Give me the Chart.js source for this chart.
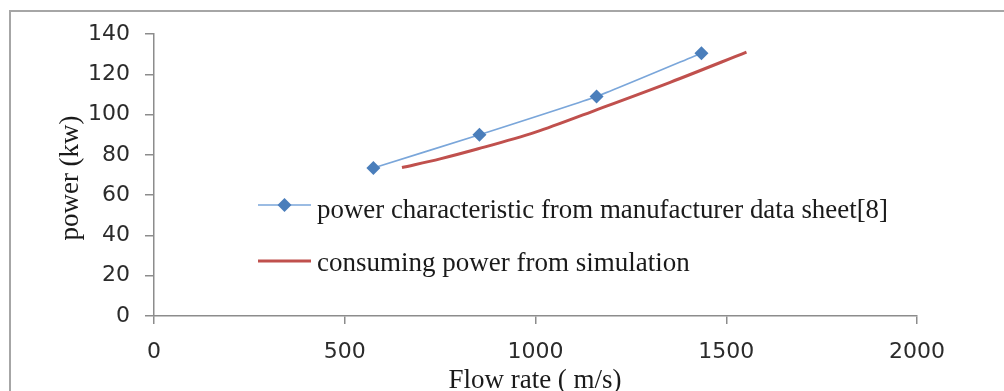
<!DOCTYPE html>
<html>
<head>
<meta charset="utf-8">
<script src="https://cdn.jsdelivr.net/npm/chart.js@4/dist/chart.umd.min.js"></script>
<style>
html,body{margin:0;padding:0;background:#fff;overflow:hidden;}
#wrap{position:relative;width:1004px;height:391px;}
</style>
</head>
<body>
<div id="wrap"><canvas id="c"></canvas></div>
<script>
// ---- data ----
const manufacturerFlow  = [575, 853, 1160, 1435];
const manufacturerPower = [73.5, 90, 109, 130.5];
const simFlow  = [650, 750, 850, 1000, 1155, 1353, 1553];
const simPower = [73.7, 78, 83, 91.3, 102, 116, 131];
const xTicks = [0, 500, 1000, 1500, 2000];
const yTicks = [0, 20, 40, 60, 80, 100, 120, 140];
const seriesNames = ['power characteristic from manufacturer data sheet[8]', 'consuming power from simulation'];
const xTitle = 'Flow rate ( m/s)';
const yTitle = 'power (kw)';

const toPts = (xs, ys) => xs.map((x, i) => ({x: x, y: ys[i]}));

const decor = {
  id: 'decor',
  beforeDraw(chart) {
    const ctx = chart.ctx;
    ctx.save();
    ctx.fillStyle = '#fff';
    ctx.fillRect(0, 0, chart.width, chart.height);
    ctx.strokeStyle = '#a6a6a6';
    ctx.lineWidth = 2;
    ctx.beginPath();
    ctx.moveTo(10, chart.height + 2);
    ctx.lineTo(10, 11);
    ctx.lineTo(chart.width + 2, 11);
    ctx.stroke();
    ctx.restore();
  },
  afterDraw(chart) {
    const ctx = chart.ctx;
    ctx.save();
    ctx.fillStyle = '#1a1a1a';
    ctx.font = '27px "Liberation Serif", "Times New Roman", serif';
    ctx.textAlign = 'center';
    ctx.textBaseline = 'alphabetic';
    ctx.fillText(xTitle, 535, 388, 184);
    ctx.save();
    ctx.translate(78, 178);
    ctx.rotate(-Math.PI / 2);
    ctx.fillText(yTitle, 0, 0, 132);
    ctx.restore();
    const ds = chart.data.datasets;
    const lx0 = 258, lx1 = 311;
    ctx.strokeStyle = ds[0].borderColor;
    ctx.lineWidth = ds[0].borderWidth;
    ctx.beginPath(); ctx.moveTo(lx0, 205); ctx.lineTo(lx1, 205); ctx.stroke();
    ctx.fillStyle = ds[0].pointBackgroundColor;
    const cx = (lx0 + lx1) / 2, r = 7;
    ctx.beginPath();
    ctx.moveTo(cx, 205 - r); ctx.lineTo(cx + r, 205); ctx.lineTo(cx, 205 + r); ctx.lineTo(cx - r, 205);
    ctx.closePath(); ctx.fill();
    ctx.strokeStyle = ds[1].borderColor;
    ctx.lineWidth = ds[1].borderWidth;
    ctx.beginPath(); ctx.moveTo(lx0, 261); ctx.lineTo(lx1, 261); ctx.stroke();
    ctx.fillStyle = '#1a1a1a';
    ctx.textAlign = 'left';
    ctx.font = '27px "Liberation Serif", "Times New Roman", serif';
    ctx.fillText(seriesNames[0], 317, 218, 571);
    ctx.fillText(seriesNames[1], 317, 271, 382);
    ctx.restore();
  }
};

const tickFont = {family: '"DejaVu Sans", sans-serif', size: 22};

new Chart(document.getElementById('c'), {
  type: 'scatter',
  data: {
    datasets: [
      {
        label: seriesNames[0],
        data: toPts(manufacturerFlow, manufacturerPower),
        showLine: true,
        borderColor: '#7aa6da',
        borderWidth: 1.6,
        tension: 0.15,
        pointStyle: 'rectRot',
        pointRadius: 7,
        pointBackgroundColor: '#4a7ebb',
        pointBorderColor: '#4a7ebb',
        pointBorderWidth: 0
      },
      {
        label: seriesNames[1],
        data: toPts(simFlow, simPower),
        showLine: true,
        borderColor: '#c0504d',
        borderWidth: 3,
        cubicInterpolationMode: 'monotone',
        pointRadius: 0
      }
    ]
  },
  options: {
    responsive: true,
    maintainAspectRatio: false,
    animation: false,
    layout: {padding: {left: 0, top: 34, right: 87, bottom: 0}},
    plugins: {legend: {display: false}, tooltip: {enabled: false}},
    scales: {
      x: {
        type: 'linear', min: xTicks[0], max: xTicks[xTicks.length - 1],
        afterBuildTicks: s => { s.ticks = xTicks.map(v => ({value: v})); },
        afterFit: s => { s.height = 75; },
        grid: {drawOnChartArea: false, drawTicks: true, tickLength: 8, color: '#8c8c8c', lineWidth: 1.5},
        border: {display: true, color: '#8c8c8c', width: 1.5},
        ticks: {color: '#2b2b2b', padding: 15, maxRotation: 0, font: tickFont, callback: v => String(v)}
      },
      y: {
        type: 'linear', min: yTicks[0], max: yTicks[yTicks.length - 1],
        afterBuildTicks: s => { s.ticks = yTicks.map(v => ({value: v})); },
        afterFit: s => { s.width = 154; },
        grid: {drawOnChartArea: false, drawTicks: true, tickLength: 9, color: '#8c8c8c', lineWidth: 1.5},
        border: {display: true, color: '#8c8c8c', width: 1.5},
        ticks: {color: '#2b2b2b', padding: 15, font: tickFont, callback: v => String(v)}
      }
    }
  },
  plugins: [decor]
});
</script>
</body>
</html>
